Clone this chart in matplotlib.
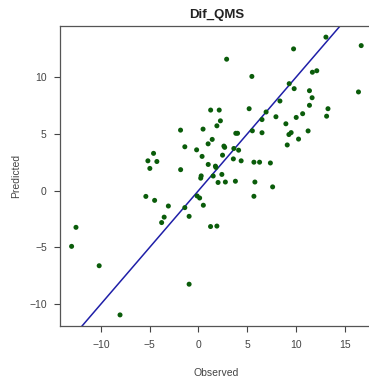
import matplotlib
matplotlib.use("Agg")
import matplotlib.pyplot as plt

plt.rcParams['font.family'] = ['Liberation Sans', 'DejaVu Sans']

# observed vs predicted values
observed = [13.09, 16.71, 9.77, 2.90, 5.49, 11.70, 12.15, 16.43, 9.32, 9.83,
            11.40, 11.67, 8.37, 11.40, 1.26, 2.14, 5.21, 6.95, 13.30, 2.26,
            1.90, 6.53, 7.96, 8.98, 10.04, 10.70, 13.16, -1.83, 0.48, 11.26,
            5.54, 3.84, 4.02, 6.53, 9.29, 9.52, -1.39, -0.18, 1.00, 1.42,
            2.62, 2.70, 3.64, 4.13, 9.12, 10.28, -4.60, -5.18, -4.26, -4.98,
            0.38, 1.01, 1.75, 1.80, 2.48, 3.59, 4.39, 5.70, 6.28, 7.39,
            -1.82, 0.29, 0.24, 2.41, 1.52, 2.02, 2.77, 3.80, 5.80, 7.62,
            -5.39, -4.49, -3.08, -0.13, 0.13, 0.51, -1.39, 5.70, -3.51, -3.77,
            -0.95, 1.25, 1.90, -12.56, -13.01, -10.18, -0.95, -8.04]
predicted = [13.56, 12.81, 12.52, 11.61, 10.09, 10.46, 10.59, 8.72, 9.45, 9.01,
             8.83, 8.21, 7.92, 7.54, 7.12, 7.12, 7.24, 6.95, 7.24, 6.17,
             5.73, 6.28, 6.53, 5.91, 6.47, 6.80, 6.58, 5.35, 5.44, 5.28,
             5.29, 5.07, 5.07, 5.12, 4.96, 5.13, 3.88, 3.61, 4.14, 4.53,
             3.94, 3.83, 3.73, 3.58, 4.04, 4.56, 3.30, 2.64, 2.58, 1.97,
             3.03, 2.32, 2.17, 2.06, 3.14, 2.81, 2.64, 2.52, 2.52, 2.45,
             1.86, 1.31, 1.11, 1.44, 1.30, 0.73, 0.77, 0.84, 0.77, 0.34,
             -0.50, -0.85, -1.35, -0.46, -0.64, -1.28, -1.49, -0.49, -2.33, -2.81,
             -2.26, -3.16, -3.12, -3.23, -4.91, -6.62, -8.25, -10.96]
x_ticks = [-10, -5, 0, 5, 10, 15]
y_ticks = [-10, -5, 0, 5, 10]

fig = plt.figure(figsize=(3.69, 3.83), dpi=100)
ax = fig.add_axes([0.1626, 0.1488, 0.8477, 0.7833])

ax.scatter(observed, predicted, s=13, color='#0a5c0a', edgecolors='none', zorder=3)
ax.axline((0, 0), slope=1, color='#1f1fa8', lw=1.1, zorder=2)

ax.set_xlim(-14.2, 17.9)
ax.set_ylim(-11.94, 14.54)
ax.set_xticks(x_ticks)
ax.set_yticks(y_ticks)
ax.tick_params(labelsize=7.5, colors='#444444', length=4.5, width=0.8)
ax.tick_params(axis='x', pad=5.5)
ax.tick_params(axis='y', pad=5)
for sp in ax.spines.values():
    sp.set_color('#555555')
    sp.set_linewidth(0.9)

ax.set_title('Dif_QMS', fontsize=9.5, fontweight='bold', color='#222222', pad=6)
ax.set_xlabel('Observed', fontsize=7.5, color='#444444', labelpad=13)
ax.set_ylabel('Predicted', fontsize=7.5, color='#444444', labelpad=6)

fig.savefig('out.png', dpi=100)
